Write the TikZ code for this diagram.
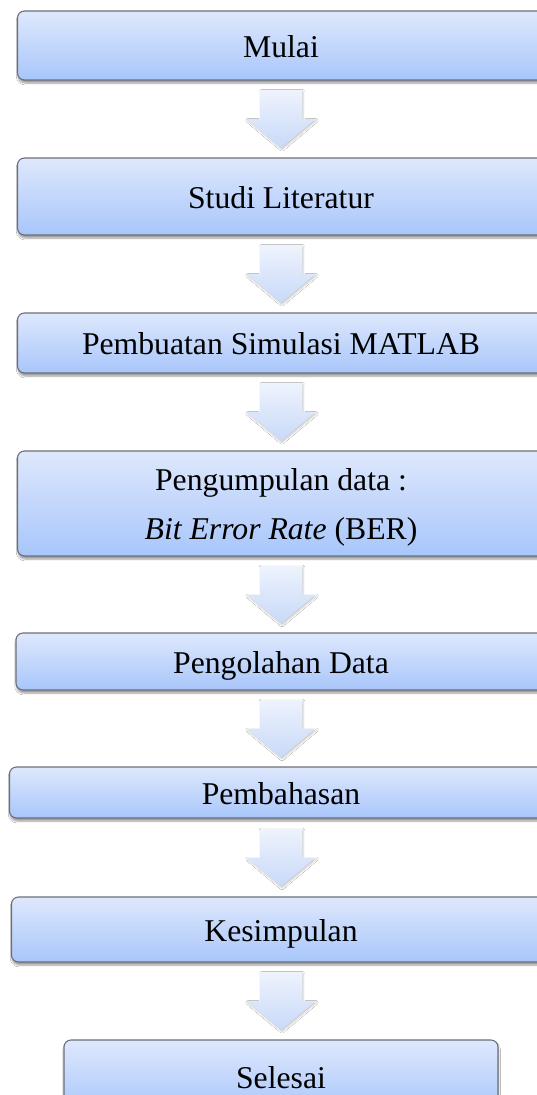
\documentclass[tikz,border=0pt]{standalone}
\usepackage{fontspec}
\setmainfont{Liberation Serif}
\usetikzlibrary{calc,shadows.blur}
\definecolor{boxtop}{HTML}{DEE8FC}
\definecolor{boxbot}{HTML}{A8C6FB}
\definecolor{boxline}{HTML}{6B6F78}
\definecolor{arrtop}{HTML}{EEF3FD}
\definecolor{arrbot}{HTML}{C8D9F8}
\tikzset{
  flowbox/.style={rectangle, rounded corners=7pt, draw=boxline, line width=1.1pt,
    top color=boxtop, bottom color=boxbot, inner sep=0pt, align=center,
    font=\fontsize{31.7pt}{49pt}\selectfont, text height=25.4pt, text depth=1.6pt,
    blur shadow={shadow xshift=0.6pt, shadow yshift=-3pt, shadow blur steps=6, shadow opacity=40}},
  flowarrow/.style={top color=arrtop, bottom color=arrbot, draw=none,
    blur shadow={shadow xshift=1pt, shadow yshift=-1.5pt, shadow blur steps=4, shadow opacity=22}}
}
\newcommand{\blockarrow}[2]{%
  \coordinate (#1-#2) at ($(#1.south)!0.5!(#2.north)$);
  \shade[flowarrow] ([shift={(-21,-29)}]#1-#2) -- ([shift={(21,-29)}]#1-#2)
    -- ([shift={(21,0)}]#1-#2) -- ([shift={(34.5,0)}]#1-#2) -- ([shift={(0,29)}]#1-#2)
    -- ([shift={(-34.5,0)}]#1-#2) -- ([shift={(-21,0)}]#1-#2) -- cycle;}
\begin{document}
\begin{tikzpicture}[x=1pt,y=-1pt]
\useasboundingbox (0,0) rectangle (537,1095);
\clip (0,0) rectangle (537,1095);
\fill[white] (0,0) rectangle (537,1095);
\node[flowbox, minimum width=527pt, minimum height=69pt] (mulai) at (281,45.5) {Mulai};
\node[flowbox, minimum width=527pt, minimum height=77pt] (studi) at (281,196.5) {Studi Literatur};
\node[flowbox, minimum width=527pt, minimum height=60pt] (pembuatan) at (281,343) {Pembuatan Simulasi MATLAB};
\node[flowbox, minimum width=527pt, minimum height=105pt, text height=74.4pt] (pengumpulan) at (281,503.5) {Pengumpulan data :\\\textit{Bit Error Rate} (BER)};
\node[flowbox, minimum width=530pt, minimum height=57pt] (pengolahan) at (281,661.5) {Pengolahan Data};
\node[flowbox, minimum width=543pt, minimum height=51pt] (pembahasan) at (281,792.5) {Pembahasan};
\node[flowbox, minimum width=539pt, minimum height=65pt] (kesimpulan) at (281,929.5) {Kesimpulan};
\node[flowbox, minimum width=434pt, minimum height=74pt] (selesai) at (281,1077) {Selesai};
\blockarrow{mulai}{studi}
\blockarrow{studi}{pembuatan}
\blockarrow{pembuatan}{pengumpulan}
\blockarrow{pengumpulan}{pengolahan}
\blockarrow{pengolahan}{pembahasan}
\blockarrow{pembahasan}{kesimpulan}
\blockarrow{kesimpulan}{selesai}
\end{tikzpicture}
\end{document}
